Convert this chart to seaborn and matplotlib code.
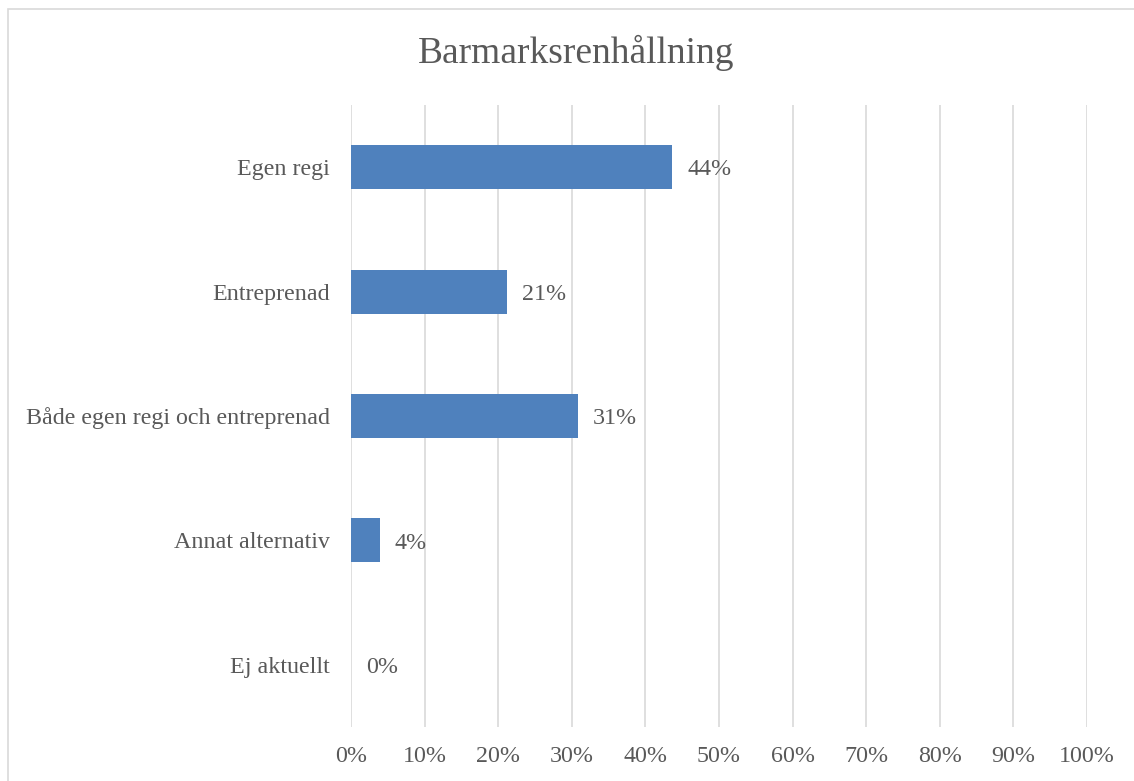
import matplotlib
matplotlib.use("Agg")
import matplotlib.pyplot as plt
from matplotlib.patches import Rectangle
from matplotlib.ticker import PercentFormatter, MultipleLocator
import seaborn as sns
import pandas as pd

categories = ["Egen regi", "Entreprenad", "Både egen regi och entreprenad",
              "Annat alternativ", "Ej aktuellt"]
shares = [0.436, 0.212, 0.308, 0.039, 0.0]

df = pd.DataFrame({"kategori": categories, "andel": shares})

sns.set_theme(style="white")
plt.rcParams["font.family"] = ["Liberation Serif", "DejaVu Serif"]

text_color = "#595959"
bar_color = "#4F81BD"
grid_color = "#D9D9D9"
label_size = 17.3

fig = plt.figure(figsize=(11.34, 7.81), dpi=100)
ax = fig.add_axes([351 / 1134, 1 - 727 / 781, (1087 - 351) / 1134, (727 - 105) / 781])

sns.barplot(data=df, x="andel", y="kategori", orient="h", color=bar_color,
            saturation=1, width=0.355, linewidth=0, ax=ax, zorder=3)

ax.set_xlim(0, 1)
ax.set_ylim(len(categories) - 0.5, -0.5)
ax.xaxis.set_major_locator(MultipleLocator(0.1))
ax.xaxis.set_major_formatter(PercentFormatter(1.0, decimals=0))
ax.grid(axis="x", color=grid_color, linewidth=1.2, zorder=0)
ax.grid(axis="y", visible=False)
for s in ax.spines.values():
    s.set_visible(False)
ax.set_xlabel("")
ax.set_ylabel("")
ax.tick_params(axis="x", length=0, pad=14, labelsize=label_size, labelcolor=text_color)
ax.tick_params(axis="y", length=0, pad=15, labelsize=label_size, labelcolor=text_color)

# value labels just right of each bar end
for patch, v in zip(ax.patches, shares):
    y = patch.get_y() + patch.get_height() / 2
    ax.annotate(f"{v:.0%}", xy=(patch.get_width(), y), xytext=(11, -2),
                textcoords="offset points", ha="left", va="center",
                fontsize=label_size, color=text_color)

fig.text(576 / 1134, 1 - 53 / 781, "Barmarksrenhållning", ha="center", va="center",
         fontsize=27, color=text_color)

fig.patches.append(Rectangle((8 / 1134, -0.1), 1.2, 1 - 9 / 781 + 0.1,
                             transform=fig.transFigure, fill=False,
                             edgecolor=grid_color, linewidth=1.2))

fig.savefig("out.png", dpi=100)
